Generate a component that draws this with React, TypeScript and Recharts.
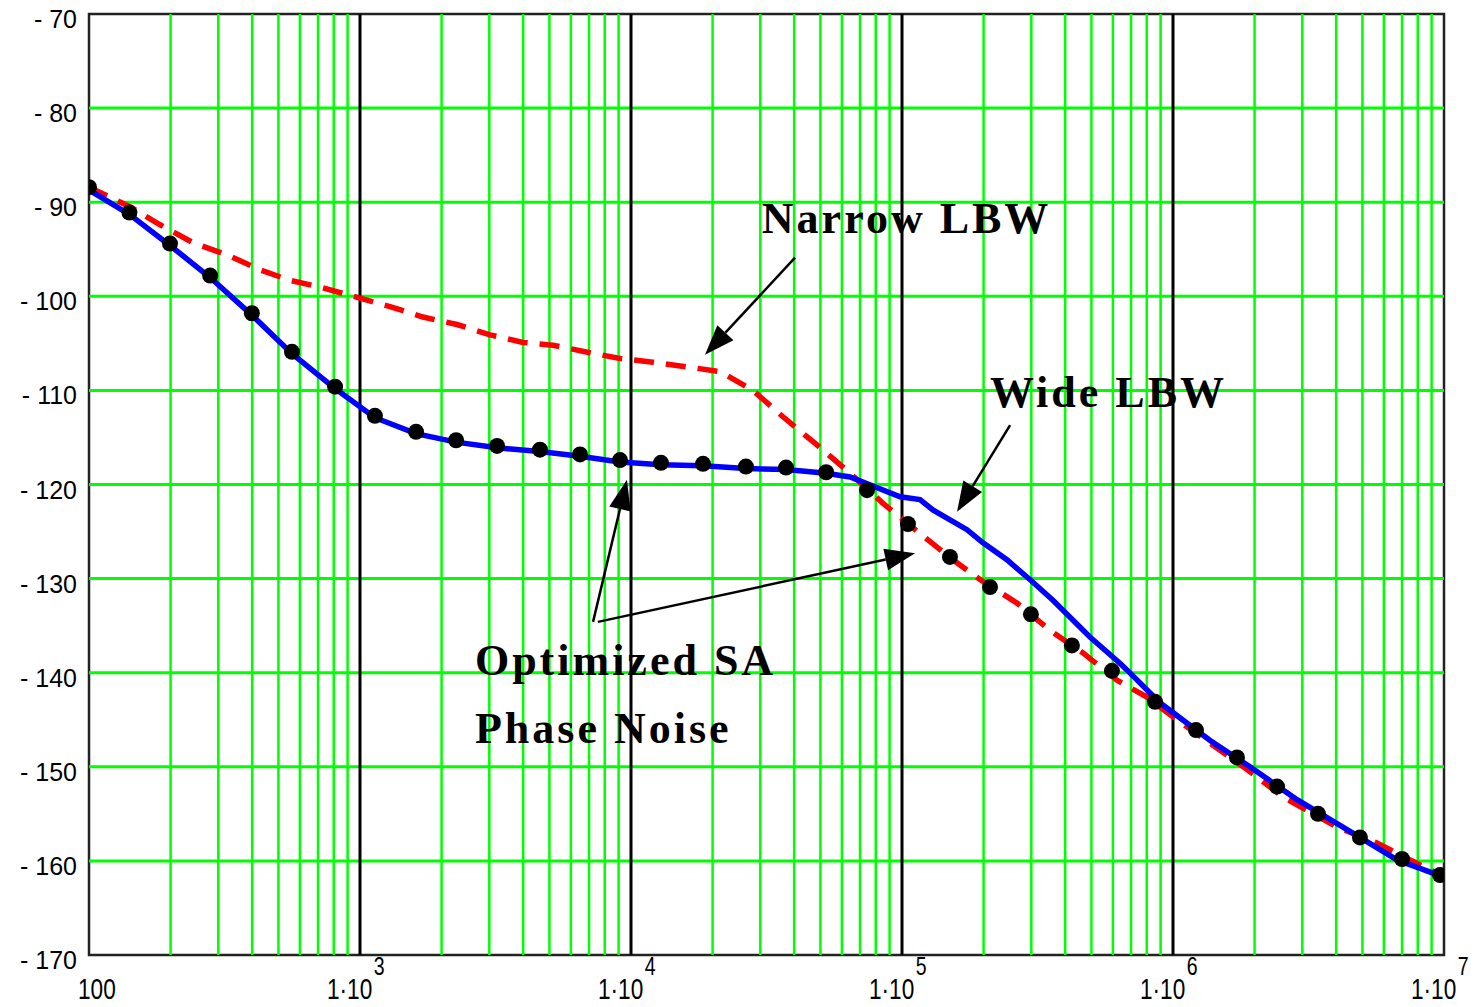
import React from "react";
import {
  ComposedChart,
  Line,
  XAxis,
  YAxis,
  ReferenceLine,
  ReferenceArea,
  ReferenceDot,
} from "recharts";

// frequency offsets (Hz) and phase noise (dBc/Hz)
const dotFreq = [
  100, 141, 199, 280, 399, 561, 809, 1135, 1610, 2262, 3204, 4614, 6486, 9107, 12900, 18440,
  26550, 37340, 52480, 74300, 105200, 150300, 211200, 299000, 423600, 595300, 858800,
  1216000, 1722000, 2421000, 3428000, 4896000, 6998000, 9665000,
];
const dotDb = [
  -88.4, -91.1, -94.4, -97.8, -101.8, -105.9, -109.6, -112.7, -114.4, -115.3, -115.9, -116.3,
  -116.8, -117.4, -117.7, -117.8, -118.1, -118.2, -118.7, -120.6, -124.2, -127.7, -130.9,
  -133.8, -137.1, -139.8, -143.1, -146.1, -149.0, -152.1, -155.0, -157.5, -159.8, -161.5,
];

const wideFreq = [
  100, 141, 199, 280, 399, 561, 809, 1135, 1610, 2262, 3204, 4614, 6486, 9107, 12900, 18440,
  26550, 37340, 52480, 64300, 98400, 116500, 130000, 173700, 199000, 243900, 296400, 360500,
  493700, 637000, 676000, 895000, 1371000, 1923000, 2870000, 4237000, 6714000, 9105000,
  10000000,
];
const wideDb = [
  -88.7, -91.3, -94.6, -98.0, -102.0, -106.1, -109.8, -112.9, -114.6, -115.5, -116.1, -116.5,
  -117.0, -117.6, -117.9, -118.0, -118.3, -118.4, -118.8, -119.2, -121.3, -121.6, -122.7,
  -124.8, -126.2, -128.0, -130.1, -132.3, -136.2, -139.0, -139.7, -143.2, -147.2, -150.0,
  -153.5, -156.4, -159.9, -161.3, -161.7,
];

const narrowFreq = [
  100, 142, 183, 242, 323, 428, 552, 730, 1000, 1291, 1708, 2279, 3020, 3993, 5152, 7058, 9107,
  12050, 16100, 21290, 28180, 36370, 48570, 62620, 85080, 116500, 154100, 194000, 265700,
  351400, 465600, 621000, 801600, 1035000, 1371000, 1877000, 2547000, 4027000, 5660000,
  7499000, 10000000,
];
const narrowDb = [
  -88.4, -90.5, -92.4, -94.3, -95.6, -97.2, -98.3, -99.1, -100.2, -101.1, -102.2, -103.0,
  -104.1, -104.9, -105.2, -106.0, -106.6, -107.0, -107.5, -108.0, -110.0, -112.8, -115.8,
  -118.5, -122.0, -125.2, -128.0, -130.1, -132.6, -135.5, -137.9, -140.8, -142.6, -145.0,
  -147.5, -150.3, -153.2, -156.4, -158.1, -159.9, -161.7,
];

const decadeTicks = [100, 1e3, 1e4, 1e5, 1e6, 1e7];
const dbTicks = [-170, -160, -150, -140, -130, -120, -110, -100, -90, -80, -70];
const minorFreqs = [2, 3, 4, 5, 6, 7, 8, 9].flatMap((m) => [1e2, 1e3, 1e4, 1e5, 1e6].map((d) => m * d));

// annotation texts and arrows, in data coordinates
const labels = [
  { text: "Narrow LBW", f: 30400, db: -93.3 },
  { text: "Wide LBW", f: 211000, db: -111.8 },
  { text: "Optimized SA", f: 2655, db: -140.2 },
  { text: "Phase Noise", f: 2655, db: -147.5 },
];
const arrows = [
  { from: [40300, -95.9], to: [18750, -106.2] },
  { from: [250600, -113.7], to: [159600, -122.9] },
  { from: [7244, -134.6], to: [9660, -119.5] },
  { from: [7550, -134.6], to: [111700, -127.3] },
];

const toRows = (fs: number[], dbs: number[]) => fs.map((f, i) => ({ f, db: dbs[i] }));
const dots = toRows(dotFreq, dotDb);
const wide = toRows(wideFreq, wideDb);
const narrow = toRows(narrowFreq, narrowDb);

const GREEN = "#00ff00";
const tickFont = "'Liberation Sans', Arial, sans-serif";

// Mathcad-style "1·10^n" labels, squeezed horizontally like the original bitmap font
function XTick({ x, y, payload }: any) {
  const v = payload.value as number;
  const exp = Math.round(Math.log10(v));
  const left = v === 100 ? x - 11 : x - 33;
  return (
    <text
      transform={`translate(${left},${y + 44}) scale(0.78,1)`}
      fontFamily={tickFont}
      fontSize={29}
      fill="#000"
    >
      {v === 100 ? (
        "100"
      ) : (
        <>
          <tspan>1·10</tspan>
          <tspan dx={2} dy={-24} fontSize={25}>
            {exp}
          </tspan>
        </>
      )}
    </text>
  );
}

function YTick({ x, y, payload }: any) {
  return (
    <text x={x - 12} y={y + 14} textAnchor="end" fontFamily={tickFont} fontSize={25} fill="#000">
      {`- ${Math.abs(payload.value)}`}
    </text>
  );
}

function Arrow(props: any) {
  const { x1, y1, x2, y2 } = props;
  const ang = Math.atan2(y2 - y1, x2 - x1);
  const len = 30;
  const half = 11;
  const bx = x2 - len * Math.cos(ang);
  const by = y2 - len * Math.sin(ang);
  const px = -Math.sin(ang) * half;
  const py = Math.cos(ang) * half;
  return (
    <g>
      <line x1={x1} y1={y1} x2={bx} y2={by} stroke="#000" strokeWidth={2.5} />
      <polygon points={`${x2},${y2} ${bx + px},${by + py} ${bx - px},${by - py}`} fill="#000" />
    </g>
  );
}

export default function App() {
  return (
    <div style={{ position: "absolute", left: 0, top: 0, width: 1478, height: 1007, background: "#fff" }}>
      <ComposedChart width={1478} height={1007} margin={{ top: 14, right: 34, left: 0, bottom: 0 }}>
        <XAxis
          dataKey="f"
          type="number"
          scale="log"
          domain={[100, 1e7]}
          ticks={decadeTicks}
          allowDataOverflow
          axisLine={false}
          tickLine={false}
          tickSize={0}
          tickMargin={0}
          height={52}
          tick={<XTick />}
          interval={0}
        />
        <YAxis
          dataKey="db"
          type="number"
          domain={[-170, -70]}
          ticks={dbTicks}
          allowDataOverflow
          axisLine={false}
          tickLine={false}
          tickSize={0}
          tickMargin={0}
          width={89}
          tick={<YTick />}
          interval={0}
        />
        {dbTicks.slice(1, -1).map((d) => (
          <ReferenceLine key={`h${d}`} y={d} stroke={GREEN} strokeWidth={3} />
        ))}
        {minorFreqs.map((f) => (
          <ReferenceLine key={`v${f}`} x={f} stroke={GREEN} strokeWidth={2.5} />
        ))}
        {decadeTicks.slice(1, -1).map((f) => (
          <ReferenceLine key={`d${f}`} x={f} stroke="#000" strokeWidth={3} />
        ))}
        <ReferenceArea x1={100} x2={1e7} y1={-170} y2={-70} fill="none" stroke="#222" strokeWidth={2.5} />
        <Line
          data={narrow}
          dataKey="db"
          type="linear"
          stroke="#ff0000"
          strokeWidth={5.5}
          strokeDasharray="20 12"
          dot={false}
          isAnimationActive={false}
        />
        <Line
          data={wide}
          dataKey="db"
          type="linear"
          stroke="#0000ff"
          strokeWidth={5.5}
          dot={false}
          isAnimationActive={false}
        />
        <Line
          data={dots}
          dataKey="db"
          type="linear"
          stroke="none"
          dot={{ r: 8, fill: "#000", stroke: "none" }}
          isAnimationActive={false}
        />
        {arrows.map((a, i) => (
          <ReferenceLine
            key={`a${i}`}
            segment={[
              { x: a.from[0], y: a.from[1] },
              { x: a.to[0], y: a.to[1] },
            ]}
            shape={(p: any) => <Arrow {...p} />}
          />
        ))}
        {labels.map((l) => (
          <ReferenceDot
            key={l.text}
            x={l.f}
            y={l.db}
            r={1}
            shape={(p: any) => (
              <text
                x={p.cx}
                y={p.cy}
                fontFamily="'Liberation Serif', 'Times New Roman', serif"
                fontWeight="bold"
                fontSize={44}
                letterSpacing={3}
                fill="#000"
              >
                {l.text}
              </text>
            )}
          />
        ))}
      </ComposedChart>
    </div>
  );
}
